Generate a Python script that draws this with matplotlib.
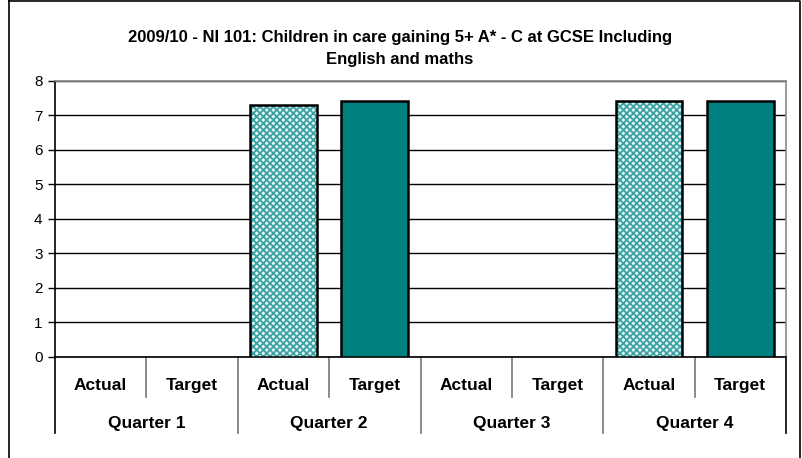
import matplotlib
matplotlib.use("Agg")
import matplotlib.pyplot as plt
from matplotlib.lines import Line2D

plt.rcParams["font.family"] = ["Liberation Sans", "DejaVu Sans"]
plt.rcParams["hatch.linewidth"] = 1.3

quarters = ["Quarter 1", "Quarter 2", "Quarter 3", "Quarter 4"]
kinds = ["Actual", "Target"]
values = [0, 0, 7.3, 7.4, 0, 0, 7.4, 7.4]
title_lines = ["2009/10 - NI 101: Children in care gaining 5+ A* - C at GCSE Including",
               "English and maths"]

W, H = 802, 458
fig = plt.figure(figsize=(W / 100, H / 100), dpi=100)
left, right, top, bottom = 55, 786, 80.7, 357
ax = fig.add_axes([left / W, 1 - bottom / H, (right - left) / W, (bottom - top) / H])

# outer chart frame
frame = [(9, 1), (800, 1), (800, 470), (9, 470), (9, 1)]
fig.add_artist(Line2D([p[0] / W for p in frame], [1 - p[1] / H for p in frame],
                      color="black", lw=1.2, transform=fig.transFigure))

for i, v in enumerate(values):
    if v == 0:
        continue
    if i % 2 == 0:
        ax.bar(i, v, width=0.73, color="#e6f4f4", edgecolor="#3aa2a2", hatch="xxxxx",
               linewidth=0, zorder=3)
        ax.bar(i, v, width=0.73, fill=False, edgecolor="black", linewidth=1.8, zorder=4)
    else:
        ax.bar(i, v, width=0.73, color="#008080", edgecolor="black", linewidth=1.8, zorder=3)

ax.set_xlim(-0.5, len(values) - 0.5)
ax.set_ylim(0, 8)
ax.set_yticks(range(9))
ax.tick_params(axis="y", direction="out", length=5, width=1, labelsize=11, pad=4)
ax.set_xticks([])
ax.grid(axis="y", color="black", linewidth=1, zorder=1)
ax.spines["left"].set_color("black")
ax.spines["bottom"].set_color("black")
ax.spines["top"].set_color("#888888")
ax.spines["right"].set_color("#888888")
for s in ax.spines.values():
    s.set_linewidth(1.2)

ph = bottom - top
tr = ax.get_xaxis_transform()
for i in range(len(values)):
    ax.text(i, -(390 - bottom) / ph, kinds[i % 2], ha="center", va="baseline",
            fontsize=12.5, fontweight="bold", transform=tr)
for q in range(len(quarters)):
    ax.text(2 * q + 0.5, -(428 - bottom) / ph, quarters[q], ha="center", va="baseline",
            fontsize=12.5, fontweight="bold", transform=tr)
for b in range(len(values) + 1):
    depth = 433 if b % 2 == 0 else 397
    color = "black" if b in (0, len(values)) else "#777777"
    ax.plot([b - 0.5, b - 0.5], [0, -(depth - bottom) / ph], color=color, lw=1.2,
            transform=tr, clip_on=False)

for line, base in zip(title_lines, [42, 64]):
    fig.text(400 / W, 1 - base / H, line, ha="center", va="baseline", fontsize=12,
             fontweight="bold")

fig.savefig("out.png", dpi=100)
